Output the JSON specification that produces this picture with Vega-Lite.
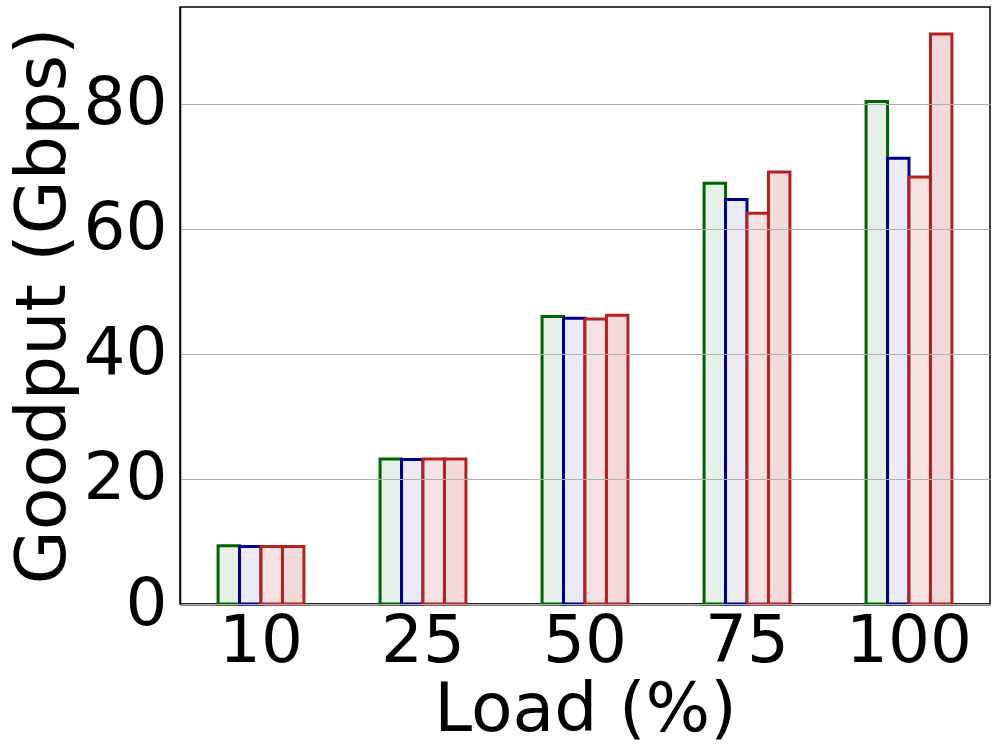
{
  "$schema": "https://vega.github.io/schema/vega-lite/v6.json",
  "width": 810,
  "height": 597,
  "autosize": {"type": "none"},
  "padding": {"left": 180, "top": 7, "right": 7, "bottom": 143},
  "background": "white",
  "config": {
    "view": {"stroke": "black", "strokeWidth": 1.5},
    "font": "DejaVu Sans"
  },
  "data": {
    "values": [
      {"load": "10", "series": "S1", "goodput": 9.3},
      {"load": "10", "series": "S2", "goodput": 9.2},
      {"load": "10", "series": "S3", "goodput": 9.2},
      {"load": "10", "series": "S4", "goodput": 9.2},
      {"load": "25", "series": "S1", "goodput": 23.2},
      {"load": "25", "series": "S2", "goodput": 23.1},
      {"load": "25", "series": "S3", "goodput": 23.2},
      {"load": "25", "series": "S4", "goodput": 23.2},
      {"load": "50", "series": "S1", "goodput": 46.0},
      {"load": "50", "series": "S2", "goodput": 45.7},
      {"load": "50", "series": "S3", "goodput": 45.6},
      {"load": "50", "series": "S4", "goodput": 46.2},
      {"load": "75", "series": "S1", "goodput": 67.3},
      {"load": "75", "series": "S2", "goodput": 64.7},
      {"load": "75", "series": "S3", "goodput": 62.5},
      {"load": "75", "series": "S4", "goodput": 69.1},
      {"load": "100", "series": "S1", "goodput": 80.4},
      {"load": "100", "series": "S2", "goodput": 71.3},
      {"load": "100", "series": "S3", "goodput": 68.3},
      {"load": "100", "series": "S4", "goodput": 91.2}
    ]
  },
  "mark": {"type": "bar", "strokeWidth": 3},
  "encoding": {
    "x": {
      "field": "load",
      "type": "nominal",
      "sort": ["10", "25", "50", "75", "100"],
      "scale": {"paddingInner": 0.47, "paddingOuter": 0.235},
      "axis": {
        "title": "Load (%)",
        "titleFontSize": 68,
        "titleFontWeight": "normal",
        "titleColor": "black",
        "titlePadding": 2,
        "labelFontSize": 66,
        "labelColor": "black",
        "labelAngle": 0,
        "labelPadding": 5,
        "ticks": false,
        "domainColor": "black",
        "domainWidth": 2
      }
    },
    "xOffset": {
      "field": "series",
      "type": "nominal",
      "sort": ["S1", "S2", "S3", "S4"],
      "scale": {"paddingInner": 0, "paddingOuter": 0}
    },
    "y": {
      "field": "goodput",
      "type": "quantitative",
      "scale": {"domain": [0, 95.5], "nice": false, "zero": true},
      "axis": {
        "title": "Goodput (Gbps)",
        "titleFontSize": 70,
        "titleFontWeight": "normal",
        "titleColor": "black",
        "titlePadding": 4,
        "values": [0, 20, 40, 60, 80],
        "labelFontSize": 66,
        "labelColor": "black",
        "labelPadding": 13,
        "ticks": false,
        "grid": true,
        "gridColor": "#b0b0b0",
        "gridWidth": 1,
        "zindex": 1,
        "domainColor": "black",
        "domainWidth": 1.5
      }
    },
    "stroke": {
      "field": "series",
      "type": "nominal",
      "scale": {"domain": ["S1", "S2", "S3", "S4"], "range": ["#006400", "#00008b", "#b22222", "#b22222"]},
      "legend": null
    },
    "fill": {
      "field": "series",
      "type": "nominal",
      "scale": {"domain": ["S1", "S2", "S3", "S4"], "range": ["#e6f0e6", "#ebebf6", "#f6e2e2", "#f3dada"]},
      "legend": null
    }
  }
}
